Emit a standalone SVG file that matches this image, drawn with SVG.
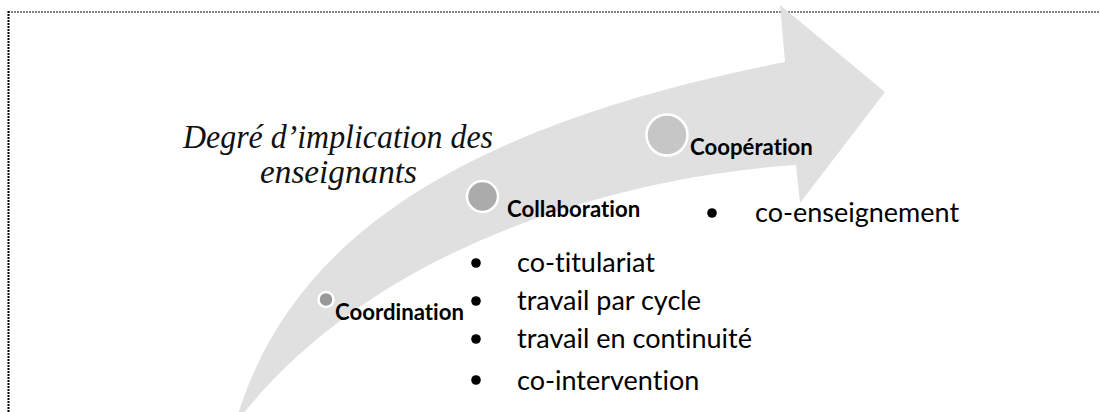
<svg xmlns="http://www.w3.org/2000/svg" width="1100" height="412" viewBox="0 0 1100 412">
  <style>
    .frame { stroke: #000; fill: none; stroke-dasharray: 2 1; }
    .stage { stroke: #fff; stroke-width: 2.5; }
    .label { font-family: Lato, "Open Sans", sans-serif; font-weight: bold; font-size: 22.2px; fill: #000; font-variant-ligatures: none; }
    .item { font-family: Lato, "Open Sans", sans-serif; font-size: 27px; fill: #000; font-variant-ligatures: none; }
    .dot { fill: #000; }
    .title { font-family: "Liberation Serif", "DejaVu Serif", serif; font-style: italic; font-size: 33px; fill: #111; }
  </style>

  <rect width="1100" height="412" fill="#fff"/>

  <!-- dotted frame (only top and left edges fall inside the canvas) -->
  <g id="frame">
    <line class="frame" x1="8" y1="12" x2="1100" y2="12" stroke-width="1"/>
    <line class="frame" x1="8.5" y1="11" x2="8.5" y2="412" stroke-width="2"/>
  </g>

  <!-- curved progression arrow -->
  <g id="arrow">
    <path d="M 238,414 C 290,250 440,130 785,62 L 780,5 L 885,92 L 800,203 L 796,165 C 600,178 370,255 243,414 Z" fill="#e0e0e0"/>
  </g>

  <g id="title">
    <text class="title" x="183" y="148" textLength="310" lengthAdjust="spacingAndGlyphs">Degré d’implication des</text>
    <text class="title" x="260" y="183" textLength="157" lengthAdjust="spacingAndGlyphs">enseignants</text>
  </g>

  <g id="coordination">
    <circle class="stage" cx="326" cy="299.5" r="7.5" fill="#999"/>
    <text class="label" x="335" y="319.5">Coordination</text>
  </g>

  <g id="collaboration">
    <circle class="stage" cx="482.5" cy="196.5" r="15.5" fill="#ababab"/>
    <text class="label" x="507" y="216.5">Collaboration</text>
  </g>

  <g id="cooperation">
    <circle class="stage" cx="667" cy="135" r="20.5" fill="#c6c6c6"/>
    <text class="label" x="690" y="154.5">Coopération</text>
  </g>

  <g id="cooperation-items">
    <circle class="dot" cx="712" cy="213" r="4.8"/>
    <text class="item" x="755" y="222">co-enseignement</text>
  </g>

  <g id="collaboration-items">
    <circle class="dot" cx="476" cy="263" r="4.8"/>
    <text class="item" x="517" y="272">co-titulariat</text>
    <circle class="dot" cx="476" cy="301" r="4.8"/>
    <text class="item" x="517" y="310">travail par cycle</text>
    <circle class="dot" cx="476" cy="339" r="4.8"/>
    <text class="item" x="517" y="348">travail en continuité</text>
    <circle class="dot" cx="476" cy="380" r="4.8"/>
    <text class="item" x="517" y="390">co-intervention</text>
  </g>
</svg>
